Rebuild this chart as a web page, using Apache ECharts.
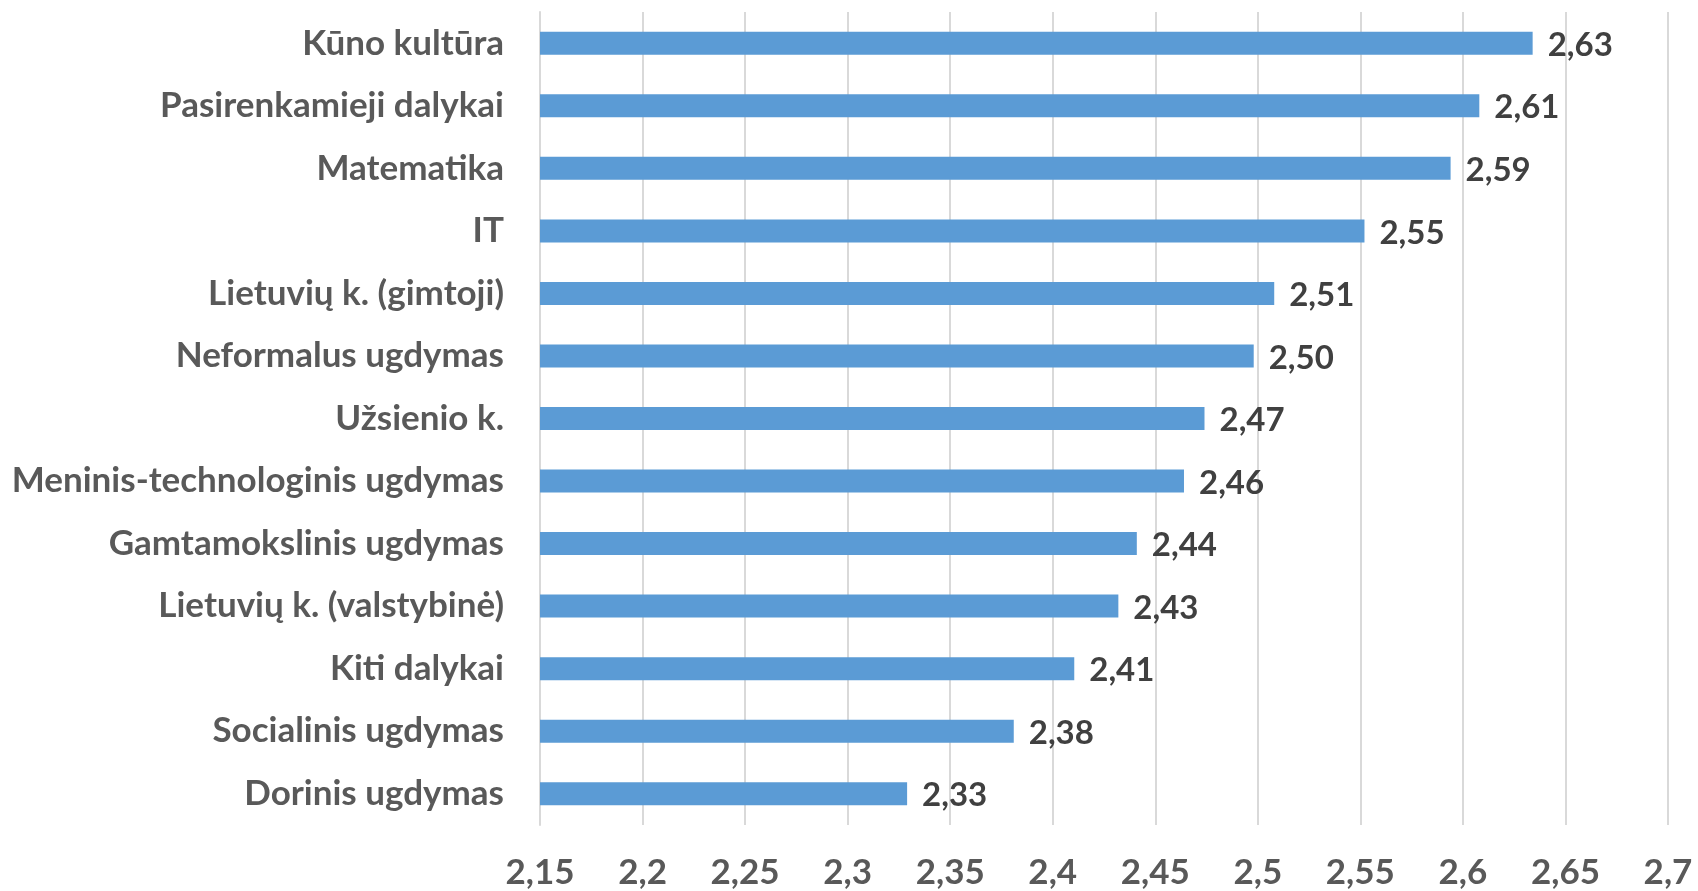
<!DOCTYPE html>
<html>
<head>
<meta charset="utf-8">
<script src="https://cdn.jsdelivr.net/npm/echarts@6/dist/echarts.min.js"></script>
<style>
  html, body { margin: 0; padding: 0; background: #fff; }
  #chart { width: 1698px; height: 891px; }
</style>
</head>
<body>
<div id="chart"></div>
<script>
// subjects, top to bottom
const subjects = [
  'Kūno kultūra',
  'Pasirenkamieji dalykai',
  'Matematika',
  'IT',
  'Lietuvių k. (gimtoji)',
  'Neformalus ugdymas',
  'Užsienio k.',
  'Meninis-technologinis ugdymas',
  'Gamtamokslinis ugdymas',
  'Lietuvių k. (valstybinė)',
  'Kiti dalykai',
  'Socialinis ugdymas',
  'Dorinis ugdymas'
]
// bar lengths
const scores = [2.634, 2.608, 2.594, 2.552, 2.508, 2.498, 2.474, 2.464, 2.441, 2.432, 2.4105, 2.381, 2.329]
const xMin = 2.15
const xMax = 2.7
const xStep = 0.05

const comma = v => String(v).replace('.', ',')

const myChart = echarts.init(document.getElementById('chart'))
myChart.setOption({
  animation: false,
  grid: {
    top: 12,
    bottom: 66,
    left: 540,
    right: 30
  },
  xAxis: {
    type: 'value',
    min: xMin,
    max: xMax,
    interval: xStep,
    axisLine: { show: false },
    axisTick: { show: false },
    splitLine: {
      show: true,
      lineStyle: { color: '#d9d9d9', width: 2 }
    },
    axisLabel: {
      margin: 30,
      fontFamily: 'Lato',
      fontWeight: 'bold',
      fontSize: 35,
      color: '#595959',
      formatter: v => comma(parseFloat(v.toFixed(2)))
    }
  },
  yAxis: {
    type: 'category',
    data: subjects,
    inverse: true,
    axisLine: {
      show: true,
      lineStyle: { color: '#d9d9d9', width: 2 }
    },
    axisTick: { show: false },
    axisLabel: {
      margin: 36,
      fontFamily: 'Lato',
      fontWeight: 'bold',
      fontSize: 35,
      color: '#595959'
    }
  },
  series: [
    {
      type: 'bar',
      data: scores,
      barWidth: 23,
      itemStyle: { color: '#5b9bd5' },
      label: {
        show: true,
        position: 'right',
        distance: 15,
        offset: [0, 2],
        fontFamily: 'Lato',
        fontWeight: 'bold',
        fontSize: 33,
        color: '#404040',
        formatter: p => comma(p.value.toFixed(2))
      }
    }
  ]
})
</script>
</body>
</html>
